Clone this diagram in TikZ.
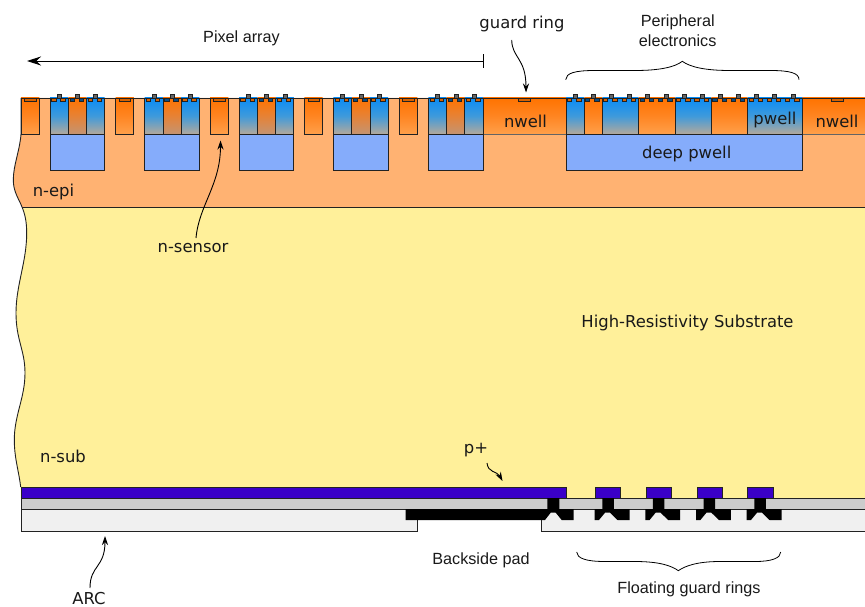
\documentclass[tikz,border=0pt]{standalone}
\usepackage{fontspec}
\setmainfont{DejaVu Sans}
\newfontfamily\arialish{Liberation Sans}
\usetikzlibrary{arrows.meta}
\definecolor{epi}{HTML}{FFB272}
\definecolor{subs}{HTML}{FFF09A}
\definecolor{deep}{HTML}{85ACFB}
\definecolor{pplus}{HTML}{3A00C8}
\definecolor{oxide}{HTML}{CCCCCC}
\definecolor{arcc}{HTML}{F0F0F0}
\definecolor{line}{HTML}{222222}
\definecolor{nw}{HTML}{FF7300}
\definecolor{pw}{HTML}{0A8CF5}
\definecolor{HTMLb}{HTML}{B3A99C}
\definecolor{HTMLm}{HTML}{3F9ADB}
\definecolor{HTMLnb}{HTML}{FFA04A}
\definecolor{HTMLnm}{HTML}{FF8522}
\definecolor{HTMLpb}{HTML}{C49472}
\definecolor{HTMLpm}{HTML}{E68236}
\tikzset{
 x=1pt,y=-1pt,
 outl/.style={draw=line,line width=0.9pt},
 pwell/.style={outl,top color=pw,bottom color=HTMLb,middle color=HTMLm},
 nwellc/.style={outl,top color=nw,bottom color=HTMLnb,middle color=HTMLnm},
 nwellmix/.style={outl,top color=nw,bottom color=HTMLpb,middle color=HTMLpm},
 deepw/.style={outl,fill=deep},
 impn/.style={draw=line,line width=0.5pt,fill=nw!85!black},
 impp/.style={draw=line,line width=0.5pt,fill=pw!55!black},
 bump/.style={draw=line,line width=0.5pt,fill=black!60},
 lab/.style={font=\fontsize{16.4}{19}\selectfont,inner sep=0pt,text=black!90},
 labb/.style={font=\arialish\fontsize{16.2}{20}\selectfont,inner sep=0pt,text=black!90},
 call/.style={-{Stealth[length=9pt,width=6pt]},line width=0.9pt,black},
}
\newcommand{\contact}[2]{%
 \ifnum#2=0 \def\st{impn}\else\def\st{impp}\fi
 \draw[\st] (#1-7.7,98) rectangle (#1-3.3,101.6);
 \draw[\st] (#1+1.5,98) rectangle (#1+5.9,101.6);
 \draw[bump] (#1-2,98) -- (#1-2,93.8) -- (#1+2,93.8) -- (#1+2,98);
}
\newcommand{\floatring}[1]{%
 \begin{scope}[xshift=#1]
 \fill[black] (594.7,509) -- (602.3,509) -- (602.3,498) -- (613.8,498) -- (613.8,509) -- (629.5,509) -- (629.5,520) -- (617.5,520) -- (610,512.7) -- (605,512.7) -- (599,520) -- (594.7,520) -- cycle;
 \end{scope}}
\begin{document}
\begin{tikzpicture}
\useasboundingbox (0,0) rectangle (865,607);
% bulk
\fill[epi] (21,98) -- (21,134) .. controls (20,150) and (13.3,165) .. (13.3,180) .. controls (13.3,192) and (19,199) .. (22,207) -- (865,207) -- (865,98) -- cycle;
\fill[subs] (22,207) .. controls (25,214) and (26.7,222) .. (26.7,233) .. controls (26.7,262) and (16,285) .. (16,313) .. controls (16,340) and (25,350) .. (25,373) .. controls (25,398) and (14.3,415) .. (14.3,440) .. controls (14.3,458) and (19,472) .. (20.7,487) -- (21,498) -- (865,498) -- (865,207) -- cycle;
\draw[outl] (21,98) -- (21,134) .. controls (20,150) and (13.3,165) .. (13.3,180) .. controls (13.3,192) and (19,199) .. (22,207) .. controls (25,214) and (26.7,222) .. (26.7,233) .. controls (26.7,262) and (16,285) .. (16,313) .. controls (16,340) and (25,350) .. (25,373) .. controls (25,398) and (14.3,415) .. (14.3,440) .. controls (14.3,458) and (19,472) .. (20.7,487);
\draw[draw=line,line width=1pt] (22,207) -- (865,207);
% nwell regions
\fill[top color=nw,bottom color=HTMLnb,middle color=HTMLnm] (483,98) rectangle (566,134);
\fill[top color=nw,bottom color=HTMLnb,middle color=HTMLnm] (802,98) rectangle (865,134);
\draw[draw=line!70,line width=0.5pt] (483,134) -- (566,134) (802,134) -- (865,134);
% sensors
\foreach \x in {21,115.6,210,304.4,399}{
 \draw[nwellc] (\x,98) rectangle (\x+18.3,134);
 \draw[impn] (\x+3.6,98) rectangle (\x+14.8,101.6);
}
% pixel groups
\foreach \x in {50,144.6,239.2,333.4,428.3}{
 \draw[deepw] (\x,134) rectangle (\x+54.7,170);
 \draw[pwell] (\x,98) rectangle (\x+18.4,134);
 \draw[nwellmix] (\x+18.4,98) rectangle (\x+36.6,134);
 \draw[pwell] (\x+36.6,98) rectangle (\x+54.7,134);
 \contact{\x+9.2}{0}
 \contact{\x+27.5}{1}
 \contact{\x+45.6}{0}
}
% peripheral
\draw[deepw] (566,134) rectangle (802.3,170);
\draw[pwell] (566,98) rectangle (584.3,134);
\draw[nwellc] (584.3,98) rectangle (602.3,134);
\draw[pwell] (602.3,98) rectangle (638.7,134);
\draw[nwellc] (638.7,98) rectangle (675.3,134);
\draw[pwell] (675.3,98) rectangle (711.3,134);
\draw[nwellc] (711.3,98) rectangle (747.7,134);
\draw[pwell] (747.7,98) rectangle (802.3,134);
\contact{575}{0}\contact{593}{1}\contact{611}{0}\contact{629.7}{0}
\contact{647.7}{1}\contact{666}{1}\contact{684}{0}\contact{702.3}{0}
\contact{720.3}{1}\contact{738.7}{1}\contact{756.7}{0}\contact{774.7}{0}\contact{793}{0}
% guard ring implants
\draw[impn] (518.3,98) rectangle (530,101.6);
\draw[impn] (831,98) rectangle (843,101.6);
\draw[draw=line,line width=0.9pt] (21,98) -- (865,98);
% backside stack
\draw[outl,fill=oxide] (21,498) -- (865,498) -- (865,509) -- (21,509) -- cycle;
\draw[outl,fill=arcc] (865,509) -- (21,509) -- (21,531) -- (417,531) -- (417,509) -- (541,509) -- (541,531) -- (865,531);
\draw[outl,fill=pplus] (21,487) rectangle (566.3,498);
\foreach \x in {595.3,646,697,747.7}{\draw[outl,fill=pplus] (\x,487) rectangle (\x+25.5,498);}
\fill[black] (405.7,509) -- (547.3,509) -- (547.3,498) -- (559.3,498) -- (559.3,509) -- (573.5,509) -- (573.5,520) -- (561.7,520) -- (555.7,512.7) -- (550.7,512.7) -- (545,520) -- (405.7,520) -- cycle;
\floatring{0}\floatring{50.6}\floatring{101.4}\floatring{152}
% labels
\node[labb] (lpix) at (241.5,38) {Pixel array};
\node[lab] (lguard) at (522,24) {guard ring};
\node[labb,align=center] (lper) at (677.7,31) {Peripheral\\electronics};
\node[lab] (lnw1) at (525.5,121) {nwell};
\node[lab] (lpw) at (775,120) {pwell};
\node[lab] (lnw2) at (837,121) {nwell};
\node[lab] (ldeep) at (686.7,153.5) {deep pwell};
\node[lab] (lepi) at (53.5,192) {n-epi};
\node[lab] (lsen) at (193,248) {n-sensor};
\node[lab] (lhrs) at (687.5,322.5) {High-Resistivity Substrate};
\node[lab] (lsub) at (63,456) {n-sub};
\node[lab] (lpp) at (476,450) {p+};
\node[labb] (lpad) at (481,560) {Backside pad};
\node[labb] (lfl) at (689,589) {Floating guard rings};
\node[lab] (larc) at (89,599) {ARC};
% connectors
\coordinate (apix) at (27,61);
\coordinate (tpix) at (483,61);
\draw[-{Stealth[length=14pt,width=9pt]},line width=0.9pt] (tpix) -- (apix);
\draw[line width=0.9pt] (483,54.5) -- (483,68);
\coordinate (sg) at (511.7,40);
\coordinate (agd) at (526,92.5);
\coordinate (ss) at (196,238);
\coordinate (asen) at (220.5,140.5);
\coordinate (sa) at (90,588);
\coordinate (aarc) at (105,536);
\coordinate (sp) at (487,463);
\coordinate (app) at (502.5,481);
\draw[call] (sg) .. controls (512,58) and (526,58) .. (agd);
\draw[call] (ss) .. controls (199,205) and (220.5,185) .. (asen);
\draw[call] (sa) .. controls (90,565) and (105,568) .. (aarc);
\draw[call] (sp) .. controls (488,473) and (497,471) .. (app);
% braces
\coordinate (b1) at (565.7,79.7); \coordinate (b2) at (799,79.7);
\draw[line width=0.8pt] (b1) .. controls (566,73) and (575,70.5) .. (595,70.5) -- (635,70.5) .. controls (660,70.5) and (675,67) .. (682.3,61.3) .. controls (690,67) and (705,70.5) .. (730,70.5) -- (770,70.5) .. controls (790,70.5) and (799,73) .. (b2);
\coordinate (c1) at (576.7,552); \coordinate (c2) at (780.7,552);
\draw[line width=0.8pt] (c1) .. controls (577,558) and (585,561.5) .. (605,561.5) -- (635,561.5) .. controls (660,561.5) and (672,566) .. (678.3,570.7) .. controls (685,566) and (697,561.5) .. (720,561.5) -- (755,561.5) .. controls (772,561.5) and (780.7,558) .. (c2);
\end{tikzpicture}
\end{document}
